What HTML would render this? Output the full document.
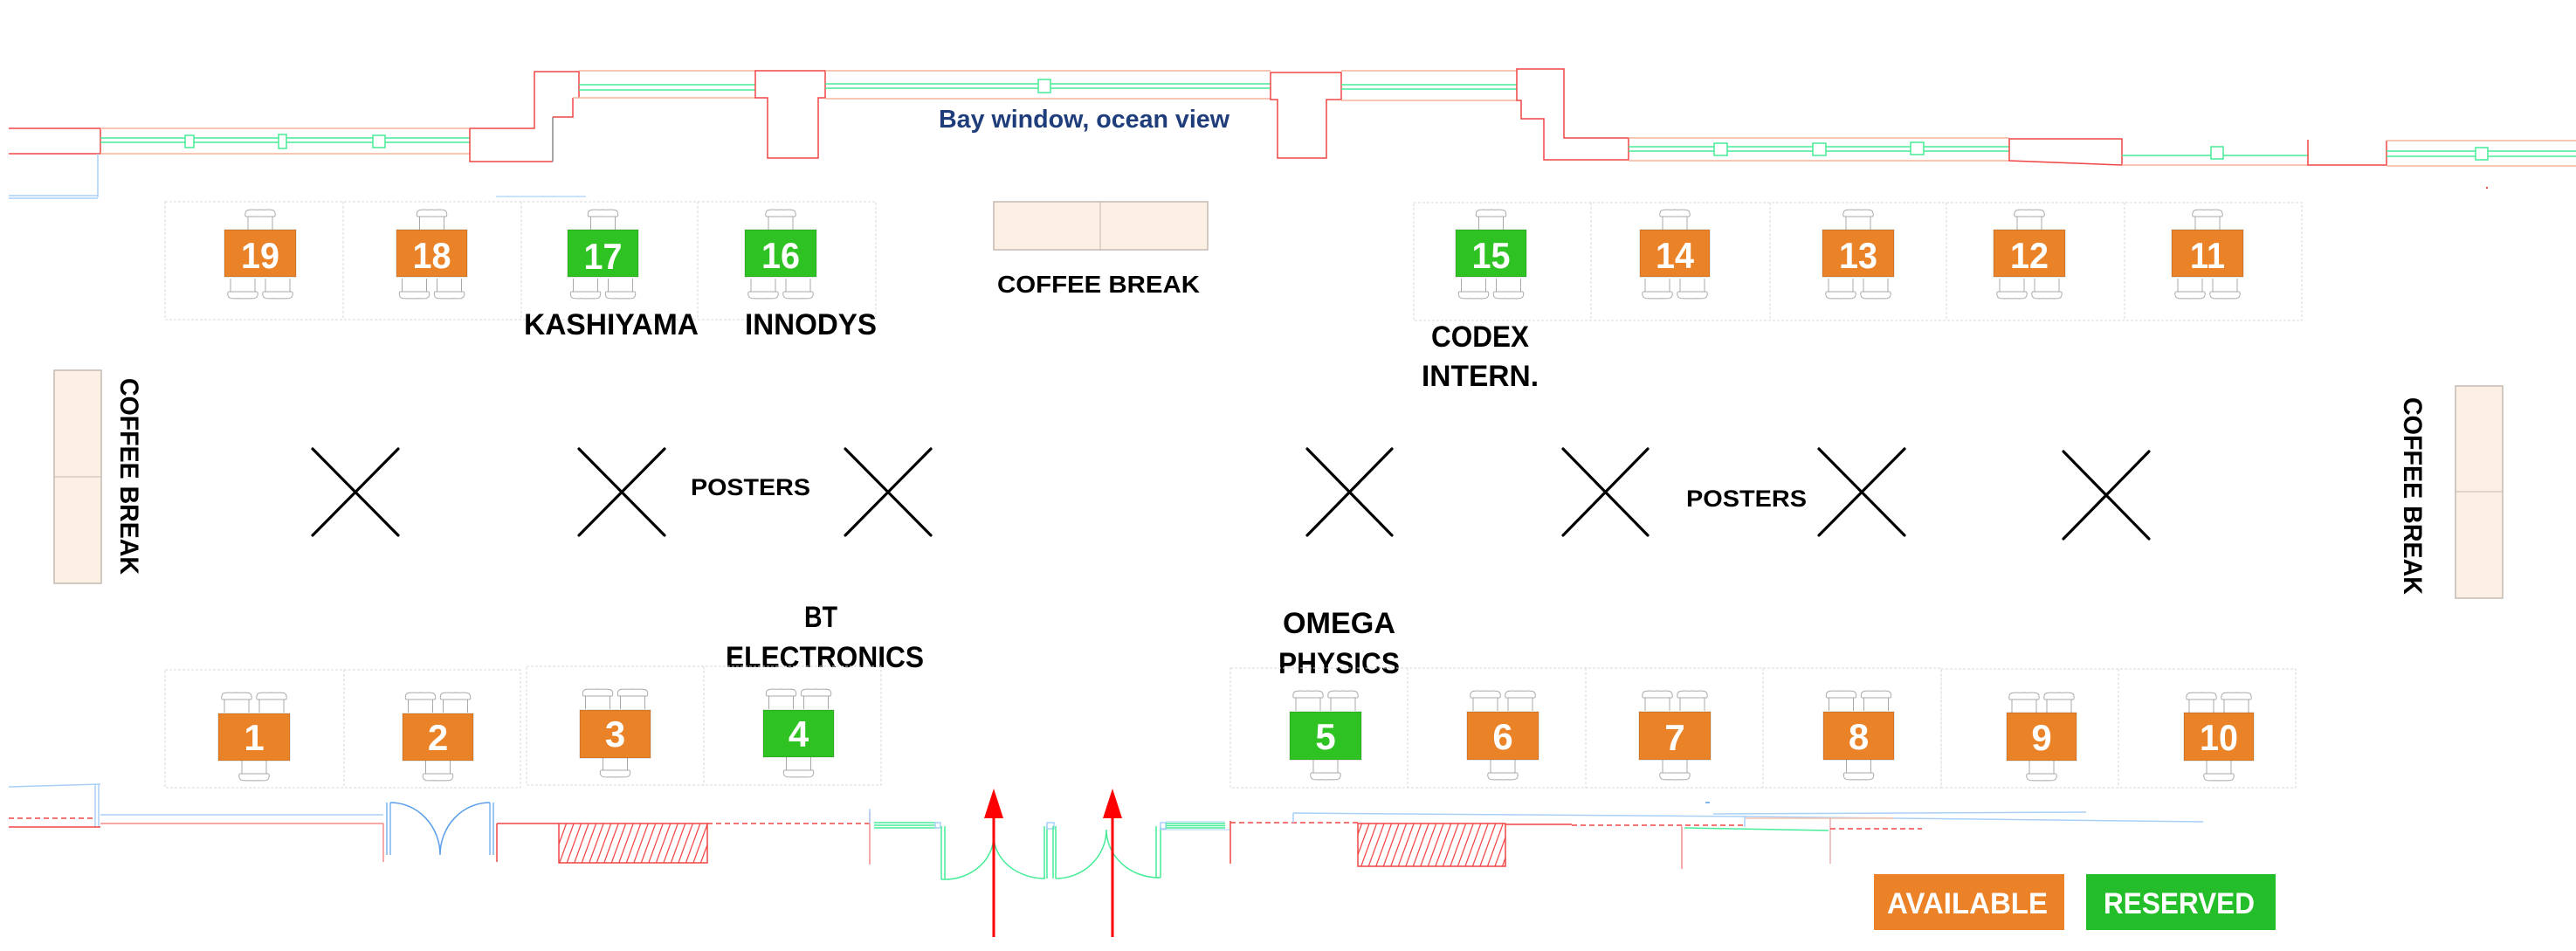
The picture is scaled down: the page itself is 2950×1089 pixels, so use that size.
<!DOCTYPE html>
<html>
<head>
<meta charset="utf-8">
<style>
html,body{margin:0;padding:0;background:#fff;}
body{width:2950px;height:1089px;overflow:hidden;}
svg{display:block;}
text{font-family:"Liberation Sans",Arial,sans-serif;font-weight:bold;}
</style>
</head>
<body>
<svg width="2950" height="1089" viewBox="0 0 2950 1089" xmlns="http://www.w3.org/2000/svg">
<defs>
  <pattern id="hatch" width="8" height="8" patternUnits="userSpaceOnUse" patternTransform="rotate(20)">
    <line x1="4" y1="0" x2="4" y2="8" stroke="#f23a3a" stroke-width="1.2"/>
  </pattern>
  <g id="ch">
    <path d="M4,24 V9 M32,24 V9 M2,9 H34 M2,9 C0,9 0.5,3 3,2 C6,0 12,2 18,1 C24,2 30,0 33,2 C35.5,3 36,9 34,9" fill="none" stroke="#a9a9a9" stroke-width="1"/>
  </g>
</defs>
<rect width="2950" height="1089" fill="#fff"/>

<!-- ================= TOP WALL ================= -->
<g fill="none" stroke-width="1.5">
  <!-- left segment -->
  <path d="M10,147 H115 M10,176 H115 M115,147 V176" stroke="#f04545"/>
  <path d="M115,147 H538 M115,176 H538" stroke="#f7b39c"/>
  <path d="M115,158 H538 M115,163 H538" stroke="#46ec96"/>
  <rect x="212" y="155" width="10" height="14" fill="#fff" stroke="#46ec96"/>
  <rect x="319" y="154" width="9" height="16" fill="#fff" stroke="#46ec96"/>
  <rect x="427" y="155" width="14" height="14" fill="#fff" stroke="#46ec96"/>
  <path d="M112,176 V226 M10,224 H112 M10,227 H112" stroke="#a8d0f7"/>
  <path d="M568,225 H671" stroke="#b8d8f8"/>
  <!-- step left -->
  <path d="M538,147 V185 H633 M538,147 H612 V82 H663 V112" stroke="#f04545"/>
  <path d="M633,185 V134" stroke="#888"/>
  <path d="M633,134 H656 V112" stroke="#f04545"/>
  <!-- window 663-865 -->
  <path d="M663,81 H865 M656,112 H865" stroke="#f7b39c"/>
  <path d="M663,97 H865 M663,103 H865" stroke="#46ec96"/>
  <!-- pillar 1 -->
  <path d="M865,81 H945 V112 H937 V181 H879 V112 H865 Z" stroke="#f04545" fill="#fff"/>
  <!-- window 945-1455 -->
  <path d="M945,81 H1455 M945,113 H1455" stroke="#f7b39c"/>
  <path d="M945,96 H1455 M945,101 H1455" stroke="#46ec96"/>
  <rect x="1189" y="91" width="14" height="15" fill="#fff" stroke="#46ec96"/>
  <!-- pillar 2 -->
  <path d="M1455,83 H1536 V114 H1519 V181 H1463 V114 H1455 Z" stroke="#f04545" fill="#fff"/>
  <!-- window 1536-1737 -->
  <path d="M1536,81 H1737 M1536,115 H1737" stroke="#f7b39c"/>
  <path d="M1536,97 H1737 M1536,102 H1737" stroke="#46ec96"/>
  <!-- right step -->
  <path d="M1737,79 H1791 V158 H1865 V183 H1768 V136 H1742 V115 H1737 Z" stroke="#f04545" fill="#fff"/>
  <!-- window 1865-2301 -->
  <path d="M1865,158 H2301 M1865,184 H2301" stroke="#f7b39c"/>
  <path d="M1865,168 H2301 M1865,173 H2301" stroke="#46ec96"/>
  <rect x="1963" y="164" width="15" height="14" fill="#fff" stroke="#46ec96"/>
  <rect x="2076" y="164" width="15" height="14" fill="#fff" stroke="#46ec96"/>
  <rect x="2188" y="163" width="15" height="14" fill="#fff" stroke="#46ec96"/>
  <!-- red box -->
  <path d="M2301,159 H2430 V189 L2301,184 Z" stroke="#f04545" fill="#fff"/>
  <!-- window 2430-2643 -->
  <path d="M2430,189 H2643" stroke="#f7b39c"/>
  <path d="M2430,178 H2643" stroke="#46ec96"/>
  <rect x="2532" y="168" width="14" height="14" fill="#fff" stroke="#46ec96"/>
  <path d="M2643,160 V189 H2733 V161" stroke="#f04545"/>
  <!-- window 2733-2950 -->
  <path d="M2733,161 H2950 M2733,190 H2950" stroke="#f7b39c"/>
  <path d="M2733,173 H2950 M2733,179 H2950" stroke="#46ec96"/>
  <rect x="2835" y="169" width="14" height="14" fill="#fff" stroke="#46ec96"/>
</g>
<rect x="2847" y="214" width="2" height="2" fill="#f04545"/>

<text x="1075" y="146" font-size="29" fill="#1f3d7a" textLength="333" lengthAdjust="spacingAndGlyphs">Bay window, ocean view</text>

<!-- ================= TOP ROW CELLS ================= -->
<g fill="none" stroke="#d9d9d9" stroke-width="1" stroke-dasharray="3 2">
  <rect x="189" y="231" width="814" height="135"/>
  <path d="M393,231 V366 M597,231 V366 M799,231 V366"/>
  <rect x="1619" y="232" width="1017" height="135"/>
  <path d="M1822,232 V367 M2027,232 V367 M2229,232 V367 M2433,232 V367"/>
</g>

<!-- top coffee table -->
<rect x="1138" y="231" width="245" height="55" fill="#fcefe4" stroke="#c4bab2" stroke-width="1.5"/>
<line x1="1260" y1="231" x2="1260" y2="286" stroke="#c4bab2" stroke-width="1"/>
<text x="1142" y="335" font-size="28" fill="#000" textLength="232" lengthAdjust="spacingAndGlyphs">COFFEE BREAK</text>

<!-- top row chairs -->
<g>
  <use href="#ch" transform="translate(280,239)"/>
  <use href="#ch" transform="translate(260,343) scale(1,-1)"/>
  <use href="#ch" transform="translate(300,343) scale(1,-1)"/>

  <use href="#ch" transform="translate(476.5,239)"/>
  <use href="#ch" transform="translate(456.5,343) scale(1,-1)"/>
  <use href="#ch" transform="translate(496.5,343) scale(1,-1)"/>

  <use href="#ch" transform="translate(672.5,239)"/>
  <use href="#ch" transform="translate(652.5,343) scale(1,-1)"/>
  <use href="#ch" transform="translate(692.5,343) scale(1,-1)"/>

  <use href="#ch" transform="translate(876,239)"/>
  <use href="#ch" transform="translate(856,343) scale(1,-1)"/>
  <use href="#ch" transform="translate(896,343) scale(1,-1)"/>

  <use href="#ch" transform="translate(1689.5,239)"/>
  <use href="#ch" transform="translate(1669.5,343) scale(1,-1)"/>
  <use href="#ch" transform="translate(1709.5,343) scale(1,-1)"/>

  <use href="#ch" transform="translate(1900,239)"/>
  <use href="#ch" transform="translate(1880,343) scale(1,-1)"/>
  <use href="#ch" transform="translate(1920,343) scale(1,-1)"/>

  <use href="#ch" transform="translate(2110,239)"/>
  <use href="#ch" transform="translate(2090,343) scale(1,-1)"/>
  <use href="#ch" transform="translate(2130,343) scale(1,-1)"/>

  <use href="#ch" transform="translate(2306,239)"/>
  <use href="#ch" transform="translate(2286,343) scale(1,-1)"/>
  <use href="#ch" transform="translate(2326,343) scale(1,-1)"/>

  <use href="#ch" transform="translate(2510,239)"/>
  <use href="#ch" transform="translate(2490,343) scale(1,-1)"/>
  <use href="#ch" transform="translate(2530,343) scale(1,-1)"/>
</g>

<!-- top row boxes -->
<g stroke="rgba(0,0,0,0.18)" stroke-width="1">
  <rect x="257" y="263" width="82" height="54" fill="#ea8227"/>
  <rect x="454" y="263" width="81" height="54" fill="#ea8227"/>
  <rect x="650" y="263" width="81" height="54" fill="#2ec322"/>
  <rect x="853" y="263" width="82" height="54" fill="#2ec322"/>
  <rect x="1667" y="263" width="81" height="54" fill="#2ec322"/>
  <rect x="1878" y="263" width="80" height="54" fill="#ea8227"/>
  <rect x="2087" y="263" width="82" height="54" fill="#ea8227"/>
  <rect x="2283" y="263" width="82" height="54" fill="#ea8227"/>
  <rect x="2487" y="263" width="82" height="54" fill="#ea8227"/>
</g>
<g font-size="42" fill="#fff" text-anchor="middle">
  <text x="298" y="307" textLength="44" lengthAdjust="spacingAndGlyphs">19</text>
  <text x="494.5" y="307" textLength="44" lengthAdjust="spacingAndGlyphs">18</text>
  <text x="690.5" y="308" textLength="44" lengthAdjust="spacingAndGlyphs">17</text>
  <text x="894" y="307" textLength="44" lengthAdjust="spacingAndGlyphs">16</text>
  <text x="1707.5" y="307" textLength="44" lengthAdjust="spacingAndGlyphs">15</text>
  <text x="1918" y="307" textLength="44" lengthAdjust="spacingAndGlyphs">14</text>
  <text x="2128" y="307" textLength="44" lengthAdjust="spacingAndGlyphs">13</text>
  <text x="2324" y="307" textLength="44" lengthAdjust="spacingAndGlyphs">12</text>
  <text x="2528" y="307" textLength="40" lengthAdjust="spacingAndGlyphs">11</text>
</g>

<!-- top labels -->
<g font-size="34" fill="#000">
  <text x="600" y="383" textLength="200" lengthAdjust="spacingAndGlyphs">KASHIYAMA</text>
  <text x="853" y="383" textLength="151" lengthAdjust="spacingAndGlyphs">INNODYS</text>
  <text x="1639" y="397" textLength="112" lengthAdjust="spacingAndGlyphs">CODEX</text>
  <text x="1628" y="442" textLength="134" lengthAdjust="spacingAndGlyphs">INTERN.</text>
</g>

<!-- ================= MIDDLE ================= -->
<!-- side coffee tables -->
<rect x="62" y="424" width="54" height="244" fill="#fcefe4" stroke="#c4bab2" stroke-width="1.5"/>
<line x1="62" y1="546" x2="116" y2="546" stroke="#c4bab2" stroke-width="1"/>
<rect x="2812" y="442" width="54" height="243" fill="#fcefe4" stroke="#c4bab2" stroke-width="1.5"/>
<line x1="2812" y1="563" x2="2866" y2="563" stroke="#c4bab2" stroke-width="1"/>
<text transform="translate(138,433) rotate(90)" font-size="30" fill="#000" textLength="225" lengthAdjust="spacingAndGlyphs">COFFEE BREAK</text>
<text transform="translate(2753,455) rotate(90)" font-size="30" fill="#000" textLength="226" lengthAdjust="spacingAndGlyphs">COFFEE BREAK</text>

<!-- X marks -->
<g stroke="#000" stroke-width="3.2" stroke-linecap="round">
  <path d="M358,514 L456,613 M456,514 L358,613"/>
  <path d="M663,514 L761,613 M761,514 L663,613"/>
  <path d="M968,514 L1066,613 M1066,514 L968,613"/>
  <path d="M1497,514 L1594,613 M1594,514 L1497,613"/>
  <path d="M1790,514 L1887,613 M1887,514 L1790,613"/>
  <path d="M2083,514 L2181,613 M2181,514 L2083,613"/>
  <path d="M2363,517 L2461,617 M2461,517 L2363,617"/>
</g>
<g font-size="27" fill="#000">
  <text x="791" y="567" textLength="137" lengthAdjust="spacingAndGlyphs">POSTERS</text>
  <text x="1931" y="580" textLength="138" lengthAdjust="spacingAndGlyphs">POSTERS</text>
</g>

<!-- bottom labels -->
<g font-size="34" fill="#000">
  <text x="921" y="718" textLength="38" lengthAdjust="spacingAndGlyphs">BT</text>
  <text x="831" y="764" textLength="227" lengthAdjust="spacingAndGlyphs">ELECTRONICS</text>
  <text x="1469" y="725" textLength="129" lengthAdjust="spacingAndGlyphs">OMEGA</text>
  <text x="1464" y="771" textLength="139" lengthAdjust="spacingAndGlyphs">PHYSICS</text>
</g>

<!-- ================= BOTTOM ROW ================= -->
<g fill="none" stroke="#d9d9d9" stroke-width="1" stroke-dasharray="3 2">
  <rect x="189" y="767" width="407" height="135"/>
  <path d="M394,767 V902"/>
  <rect x="603" y="763" width="406" height="136"/>
  <path d="M806,763 V899"/>
  <rect x="1409" y="765" width="814" height="137"/>
  <path d="M1612,765 V902 M1816,765 V902 M2019,765 V902"/>
  <rect x="2223" y="766" width="406" height="136"/>
  <path d="M2426,766 V902"/>
</g>

<!-- bottom row chairs -->
<g>
  <use href="#ch" transform="translate(253,792)"/>
  <use href="#ch" transform="translate(293,792)"/>
  <use href="#ch" transform="translate(273,895) scale(1,-1)"/>

  <use href="#ch" transform="translate(463.5,792)"/>
  <use href="#ch" transform="translate(503.5,792)"/>
  <use href="#ch" transform="translate(483.5,895) scale(1,-1)"/>

  <use href="#ch" transform="translate(666.5,788)"/>
  <use href="#ch" transform="translate(706.5,788)"/>
  <use href="#ch" transform="translate(686.5,891) scale(1,-1)"/>

  <use href="#ch" transform="translate(876.5,788)"/>
  <use href="#ch" transform="translate(916.5,788)"/>
  <use href="#ch" transform="translate(896.5,891) scale(1,-1)"/>

  <use href="#ch" transform="translate(1480,790)"/>
  <use href="#ch" transform="translate(1520,790)"/>
  <use href="#ch" transform="translate(1500,894) scale(1,-1)"/>

  <use href="#ch" transform="translate(1683,790)"/>
  <use href="#ch" transform="translate(1723,790)"/>
  <use href="#ch" transform="translate(1703,894) scale(1,-1)"/>

  <use href="#ch" transform="translate(1880,790)"/>
  <use href="#ch" transform="translate(1920,790)"/>
  <use href="#ch" transform="translate(1900,894) scale(1,-1)"/>

  <use href="#ch" transform="translate(2090.5,790)"/>
  <use href="#ch" transform="translate(2130.5,790)"/>
  <use href="#ch" transform="translate(2110.5,894) scale(1,-1)"/>

  <use href="#ch" transform="translate(2300,792)"/>
  <use href="#ch" transform="translate(2340,792)"/>
  <use href="#ch" transform="translate(2320,895) scale(1,-1)"/>

  <use href="#ch" transform="translate(2503,792)"/>
  <use href="#ch" transform="translate(2543,792)"/>
  <use href="#ch" transform="translate(2523,895) scale(1,-1)"/>
</g>

<!-- bottom row boxes -->
<g stroke="rgba(0,0,0,0.18)" stroke-width="1">
  <rect x="250" y="817" width="82" height="54" fill="#ea8227"/>
  <rect x="461" y="817" width="81" height="54" fill="#ea8227"/>
  <rect x="664" y="813" width="81" height="55" fill="#ea8227"/>
  <rect x="874" y="813" width="81" height="54" fill="#2ec322"/>
  <rect x="1477" y="815" width="82" height="55" fill="#2ec322"/>
  <rect x="1680" y="815" width="82" height="55" fill="#ea8227"/>
  <rect x="1877" y="815" width="82" height="55" fill="#ea8227"/>
  <rect x="2088" y="815" width="81" height="55" fill="#ea8227"/>
  <rect x="2298" y="816" width="80" height="55" fill="#ea8227"/>
  <rect x="2501" y="816" width="80" height="55" fill="#ea8227"/>
</g>
<g font-size="42" fill="#fff" text-anchor="middle">
  <text x="291" y="859">1</text>
  <text x="501.5" y="859">2</text>
  <text x="704.5" y="855">3</text>
  <text x="914.5" y="855">4</text>
  <text x="1518" y="858">5</text>
  <text x="1721" y="858">6</text>
  <text x="1918" y="859">7</text>
  <text x="2128.5" y="858">8</text>
  <text x="2338" y="859">9</text>
  <text x="2541" y="859" textLength="44" lengthAdjust="spacingAndGlyphs">10</text>
</g>

<!-- ================= BOTTOM WALL ================= -->
<g fill="none" stroke-width="1.5">
  <path d="M10,901 L115,898 M109,898 V947 M113,898 V947" stroke="#a8d0f7"/>
  <path d="M10,937 H108" stroke="#f04545" stroke-dasharray="6 4"/>
  <path d="M10,947 H115" stroke="#f04545"/>
  <path d="M115,933 H439" stroke="#a8d0f7"/>
  <path d="M115,943 H439" stroke="#f58a8a"/>
  <path d="M439,943 V987" stroke="#f58a8a"/>
  <!-- blue double door -->
  <path d="M443,919 V979 M447,919 V979 M561,919 V979 M565,919 V979" stroke="#7fb6f0"/>
  <path d="M447,919 A57,60 0 0 1 504,979 M561,919 A57,60 0 0 0 504,979" stroke="#5a9eea"/>
  <path d="M569,943 V987 M569,943 H640" stroke="#f04545"/>
  <rect x="640" y="943" width="170" height="45" fill="url(#hatch)" stroke="#f04545"/>
  <path d="M810,943 H996" stroke="#f04545" stroke-dasharray="6 4"/>
  <path d="M996,930 V990" stroke="#f58a8a"/>
  <path d="M996,926 V943" stroke="#a8d0f7"/>
  <!-- entrance doors -->
  <path d="M1001,942 H1071 M1001,945 H1071 M1001,948 H1071" stroke="#46ec96"/>
  <rect x="1071" y="942" width="6" height="6" stroke="#a8d0f7"/>
  <path d="M1078,946 V1007 M1082,946 V1007 M1082,1007 H1078" stroke="#46ec96"/>
  <path d="M1082,1007 A56,50 0 0 0 1138,957 M1138,957 A59,49 0 0 0 1197,1006" stroke="#46ec96"/>
  <path d="M1196,946 V1006 M1199,946 V1006" stroke="#46ec96"/>
  <rect x="1199" y="942" width="8" height="7" stroke="#a8d0f7"/>
  <path d="M1206,946 V1006 M1209,946 V1006" stroke="#46ec96"/>
  <path d="M1209,1006 A58,56 0 0 0 1267,950 M1267,950 A60,55 0 0 0 1327,1005" stroke="#46ec96"/>
  <path d="M1324,946 V1005 M1329,946 V1005 M1324,1005 H1329" stroke="#46ec96"/>
  <rect x="1329" y="942" width="6" height="7" stroke="#a8d0f7"/>
  <path d="M1335,943 H1403 M1335,945.5 H1403 M1335,948 H1403" stroke="#46ec96"/>
  <path d="M1335,941 H1403 M1329,950 H1409" stroke="#a8d0f7" stroke-width="1"/>
  <path d="M1409,940 V989" stroke="#f04545"/>
  <path d="M1409,942 H1555" stroke="#f04545" stroke-dasharray="6 4"/>
  <path d="M1481,931 L1999,935 L2523,941 M1962,932 L2389,930 M1481,931 V942 M1998,935 V947" stroke="#a8d0f7"/>
  <rect x="1555" y="943" width="169" height="49" fill="url(#hatch)" stroke="#f04545"/>
  <path d="M1724,944 H1800" stroke="#f04545"/>
  <path d="M1800,945 H1998" stroke="#f04545" stroke-dasharray="6 4"/>
  <path d="M1926,946 V995" stroke="#f58a8a"/>
  <path d="M1929,948 L2094,951" stroke="#46ec96"/>
  <path d="M1999,937 H2168" stroke="#f8c0a8"/>
  <path d="M2096,937 V989" stroke="#e08a8a" stroke-width="1"/>
  <path d="M2096,949 H2201" stroke="#f04545" stroke-dasharray="6 4"/>
  <path d="M1953,919 H1958" stroke="#5a9eea"/>
</g>

<!-- arrows -->
<g fill="#ff0000" stroke="none">
  <rect x="1136.5" y="934" width="3" height="139"/>
  <polygon points="1138,903 1127,937 1149,937"/>
  <rect x="1272.5" y="934" width="3" height="139"/>
  <polygon points="1274,903 1263,937 1285,937"/>
</g>

<!-- legend -->
<rect x="2146" y="1001" width="218" height="64" fill="#eb8228"/>
<rect x="2389" y="1001" width="217" height="64" fill="#23be2a"/>
<text x="2161" y="1046" font-size="34" fill="#fff" textLength="184" lengthAdjust="spacingAndGlyphs">AVAILABLE</text>
<text x="2409" y="1046" font-size="34" fill="#fff" textLength="173" lengthAdjust="spacingAndGlyphs">RESERVED</text>
</svg>
</body>
</html>
